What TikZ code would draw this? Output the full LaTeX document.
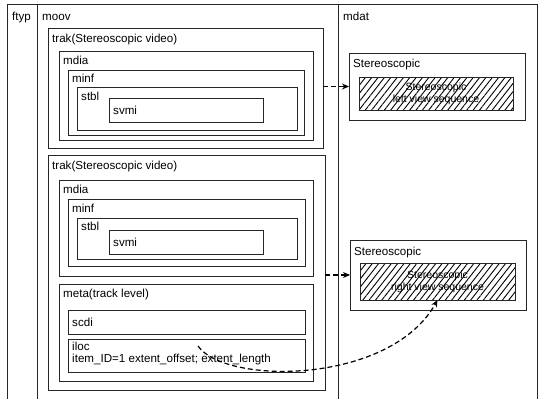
\documentclass[tikz,border=0pt]{standalone}
\usepackage{fontspec}
\setmainfont{Liberation Sans}
\usetikzlibrary{arrows.meta,patterns.meta}
\begin{document}
\begin{tikzpicture}[x=1pt,y=-1pt,
  box/.style={draw=black!85,line width=0.8pt,inner sep=0pt,outer sep=0pt,anchor=north west},
  hatchbox/.style={box,pattern={Lines[angle=52,distance=5pt,line width=0.9pt]},pattern color=black},
  lbl/.style={inner sep=0pt,anchor=base west,font=\fontsize{11.6}{13}\selectfont},
  hlbl/.style={inner sep=0pt,align=center,font=\fontsize{10.5}{12}\selectfont},
  link/.style={draw=black,line width=1.2pt,dash pattern=on 5pt off 3pt,-{Stealth[length=7pt,width=6pt]}}]
\useasboundingbox (0,0) rectangle (541,399);
% outer frame and column dividers
\draw[black!85,line width=0.8pt] (7,399) -- (7,4) -- (537,4) -- (537,399);
\draw[black!85,line width=0.8pt] (37,4) -- (37,399);
\draw[black!85,line width=0.8pt] (338,4) -- (338,399);
\node[lbl] (ftyp) at (12,20) {ftyp};
\node[lbl] (moov) at (42,20) {moov};
\node[lbl] (mdat) at (343,20) {mdat};
% first trak
\node[box,minimum width=275pt,minimum height=120pt] (trakA) at (48,28) {};
\node[box,minimum width=254pt,minimum height=89pt] (mdiaA) at (59,51) {};
\node[box,minimum width=236pt,minimum height=65pt] (minfA) at (68,70) {};
\node[box,minimum width=220pt,minimum height=43pt] (stblA) at (77,87) {};
\node[box,minimum width=154pt,minimum height=24pt] (svmiA) at (109,98) {};
\node[lbl] (trakAl) at (52,42) {trak(Stereoscopic video)};
\node[lbl] (mdiaAl) at (63,64) {mdia};
\node[lbl] (minfAl) at (72,82) {minf};
\node[lbl] (stblAl) at (81,100) {stbl};
\node[lbl] (svmiAl) at (113,114) {svmi};
% second trak
\node[box,minimum width=277pt,minimum height=235pt] (trakB) at (48,155) {};
\node[box,minimum width=254pt,minimum height=96pt] (mdiaB) at (59,180) {};
\node[box,minimum width=237pt,minimum height=67pt] (minfB) at (68,199) {};
\node[box,minimum width=220pt,minimum height=41pt] (stblB) at (77,218) {};
\node[box,minimum width=154pt,minimum height=24pt] (svmiB) at (109,230) {};
\node[box,minimum width=254pt,minimum height=97pt] (metaB) at (59,284) {};
\node[box,minimum width=237pt,minimum height=24pt] (scdiB) at (68,310) {};
\node[box,minimum width=237pt,minimum height=33pt] (ilocB) at (68,339) {};
\node[lbl] (trakBl) at (52,169) {trak(Stereoscopic video)};
\node[lbl] (mdiaBl) at (63,193) {mdia};
\node[lbl] (minfBl) at (72,212) {minf};
\node[lbl] (stblBl) at (81,230) {stbl};
\node[lbl] (svmiBl) at (113,246) {svmi};
\node[lbl] (metaBl) at (63,297) {meta(track level)};
\node[lbl] (scdiBl) at (72,326) {scdi};
\node[lbl] (ilocBl) at (72,350) {iloc};
\node[lbl] (itemBl) at (72,362) {item\_ID=1 extent\_offset; extent\_length};
% mdat content
\node[box,minimum width=176pt,minimum height=67pt] (stereoA) at (349,53) {};
\node[hatchbox,minimum width=154pt,minimum height=33pt] (hatchA) at (359,77) {};
\node[lbl] (stereoAl) at (353,67) {Stereoscopic};
\node[hlbl] (hatchAl) at (hatchA.center) {Stereoscopic\\left view sequence};
\node[box,minimum width=176pt,minimum height=70pt] (stereoB) at (350,240) {};
\node[hatchbox,minimum width=155pt,minimum height=37pt] (hatchB) at (360,263) {};
\node[lbl] (stereoBl) at (354,255) {Stereoscopic};
\node[hlbl] (hatchBl) at (hatchB.center) {Stereoscopic\\right view sequence};
% connectors
\draw[link] (trakA.east |- stereoA.west) -- (stereoA.west);
\draw[link] (trakB.east |- stereoB.west) -- (stereoB.west);
\coordinate (ilocStart) at (198,346);
\draw[link] (ilocStart) .. controls (225,385) and (390,385) .. (hatchB.south);
\end{tikzpicture}
\end{document}
